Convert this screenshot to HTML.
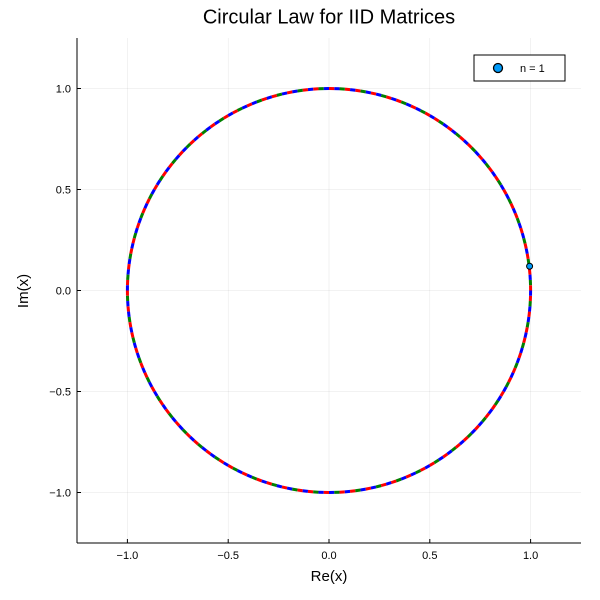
<!DOCTYPE html>
<html><head><meta charset="utf-8"><style>
body{margin:0;background:#fff;}
svg{display:block;font-family:"Liberation Sans","DejaVu Sans",sans-serif;}
</style></head><body>
<svg id="chart" width="600" height="600" viewBox="0 0 600 600">
<rect width="600" height="600" fill="#fff"/>
<text x="329" y="18" text-anchor="middle" font-size="20" fill="#000" dominant-baseline="middle">Circular Law for IID Matrices</text>
<g id="grid"></g>
<g id="circle"></g>
<g id="points"></g>
<g id="axes"></g>
<text x="329" y="581" text-anchor="middle" font-size="15">Re(x)</text>
<text transform="translate(28,291) rotate(-90)" text-anchor="middle" font-size="15">Im(x)</text>
<g>
<rect x="474" y="55" width="91" height="26" fill="#fff" stroke="#000" stroke-width="1"/>
<circle cx="498" cy="68" r="4.5" fill="#009af9" stroke="#000" stroke-width="1.3"/>
<text x="520" y="72" font-size="11">n = 1</text>
</g>
</svg>
<script>
const xTicks=[-1.0,-0.5,0.0,0.5,1.0];
const yTicks=[-1.0,-0.5,0.0,0.5,1.0];
const xTickLabels=["\u22121.0","\u22120.5","0.0","0.5","1.0"];
const yTickLabels=["\u22121.0","\u22120.5","0.0","0.5","1.0"];
const reVals=[0.995];
const imVals=[0.12];
const circleColors=["red","green","blue","red","blue","green","red","blue"];
const circleSegments=240;
const L=77,R=581,T=38,B=543;
const xMin=-1.25,xMax=1.25,yMin=-1.25,yMax=1.25;
const sx=v=>L+(v-xMin)/(xMax-xMin)*(R-L);
const sy=v=>B-(v-yMin)/(yMax-yMin)*(B-T);
const NS="http://www.w3.org/2000/svg";
function mk(t,a,p){const e=document.createElementNS(NS,t);for(const k in a)e.setAttribute(k,a[k]);p.appendChild(e);return e;}
const grid=document.getElementById('grid'),axes=document.getElementById('axes');
xTicks.forEach((v,i)=>{
 const g=mk('line',{x1:sx(v),x2:sx(v),y1:T,y2:B,stroke:'#000','stroke-opacity':0.1,'stroke-width':0.5},grid);
 
 
 const t=mk('line',{x1:sx(v),x2:sx(v),y1:B,y2:B-4,stroke:'#000'},axes);
 
 
 const l=mk('text',{x:sx(v),y:B+16,'text-anchor':'middle','font-size':11},axes);l.textContent=xTickLabels[i];
 
 
});
yTicks.forEach((v,i)=>{
 const g=mk('line',{x1:L,x2:R,y1:sy(v),y2:sy(v),stroke:'#000','stroke-opacity':0.1,'stroke-width':0.5},grid);
 
 
 const t=mk('line',{x1:L,x2:L+4,y1:sy(v),y2:sy(v),stroke:'#000'},axes);
 
 
 const l=mk('text',{x:L-6,y:sy(v)+4,'text-anchor':'end','font-size':11},axes);l.textContent=yTickLabels[i];
 
 
});
const ax1=mk('line',{x1:L,x2:R,y1:B,y2:B,stroke:'#000'},axes);


const ax2=mk('line',{x1:L,x2:L,y1:T,y2:B,stroke:'#000'},axes);


const circ=document.getElementById('circle');
for(let i=0;i<circleSegments;i++){
 const a0=2*Math.PI*i/circleSegments,a1=2*Math.PI*(i+1)/circleSegments;
 const s=mk('line',{x1:sx(Math.cos(a0)),y1:sy(Math.sin(a0)),x2:sx(Math.cos(a1)),y2:sy(Math.sin(a1)),stroke:circleColors[i%circleColors.length],'stroke-width':3},circ);
 
 
}
const pts=document.getElementById('points');
reVals.forEach((re,i)=>{
 const c=mk('circle',{cx:sx(re),cy:sy(imVals[i]),r:3,fill:'#009af9',stroke:'#000','stroke-width':1},pts);
 
 
});
</script>
</body></html>
